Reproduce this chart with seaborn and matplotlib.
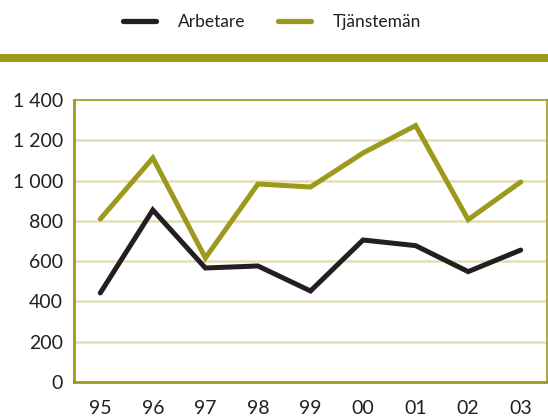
import matplotlib
matplotlib.use("Agg")
import matplotlib.pyplot as plt
import seaborn as sns
import pandas as pd
from matplotlib.lines import Line2D
from matplotlib.ticker import FuncFormatter

years = ["95", "96", "97", "98", "99", "00", "01", "02", "03"]
arbetare = [442, 854, 566, 576, 452, 705, 677, 548, 655]
tjanstemän = [809, 1112, 616, 983, 968, 1137, 1273, 806, 993]
series_names = ["Arbetare", "Tjänstemän"]
y_ticks = [0, 200, 400, 600, 800, 1000, 1200, 1400]

OLIVE = "#9c9a1c"
BLACK = "#231f20"
GRID = "#e3dfba"

sns.set_theme(style="white")
plt.rcParams["font.family"] = ["Lato", "DejaVu Sans"]

rows = []
for i, y in enumerate(years):
    rows.append({"pos": i, "year": y, "serie": series_names[0], "value": arbetare[i]})
    rows.append({"pos": i, "year": y, "serie": series_names[1], "value": tjanstemän[i]})
df = pd.DataFrame(rows)

fig = plt.figure(figsize=(5.48, 4.18), dpi=100)
ax = fig.add_axes([74 / 548, 1 - 382 / 418, (547 - 74) / 548, (382 - 100) / 418])

sns.lineplot(data=df, x="pos", y="value", hue="serie",
             palette={series_names[0]: BLACK, series_names[1]: OLIVE},
             linewidth=3.6, ax=ax, legend=False, sort=False,
             solid_capstyle="round", solid_joinstyle="miter")

ax.set_xlim(-0.5, len(years) - 0.5)
ax.set_ylim(0, 1400)
ax.set_xlabel("")
ax.set_ylabel("")

ax.set_yticks(y_ticks)
ax.yaxis.set_major_formatter(FuncFormatter(lambda v, p: f"{int(v):,}".replace(",", " ")))
ax.set_xticks(range(len(years)))
ax.set_xticklabels(years)
ax.set_xticks([i - 0.5 for i in range(len(years) + 1)], minor=True)

ax.tick_params(axis="x", which="major", length=0, pad=13, labelsize=14, colors="#231f20")
ax.tick_params(axis="x", which="minor", length=5, width=2, color=OLIVE, direction="out")
ax.tick_params(axis="y", which="major", length=5, width=2, color=OLIVE, direction="out",
               labelsize=14, labelcolor="#231f20", pad=3)

for g in y_ticks[1:-1]:
    ax.axhline(g, color=GRID, linewidth=1.8, zorder=0)

for side in ["left", "bottom", "right", "top"]:
    ax.spines[side].set_visible(True)
    ax.spines[side].set_color(OLIVE)
ax.spines["left"].set_linewidth(2)
ax.spines["bottom"].set_linewidth(2)
ax.spines["right"].set_linewidth(1.2)
ax.spines["top"].set_linewidth(1.2)

# Thick olive rule under the legend
fig.add_artist(Line2D([0, 1], [1 - 58 / 418, 1 - 58 / 418], transform=fig.transFigure,
                      color=OLIVE, linewidth=5.8, solid_capstyle="butt"))

handles = [Line2D([], [], color=BLACK, linewidth=3.8, solid_capstyle="round"),
           Line2D([], [], color=OLIVE, linewidth=3.8, solid_capstyle="round")]
leg = fig.legend(handles, series_names, loc="center", bbox_to_anchor=(272 / 548, 1 - 22 / 418),
                 ncol=2, frameon=False, fontsize=12.5, handlelength=1.9, handletextpad=1.25,
                 columnspacing=1.9)
for t in leg.get_texts():
    t.set_color(BLACK)

fig.savefig("out.png", dpi=100)
